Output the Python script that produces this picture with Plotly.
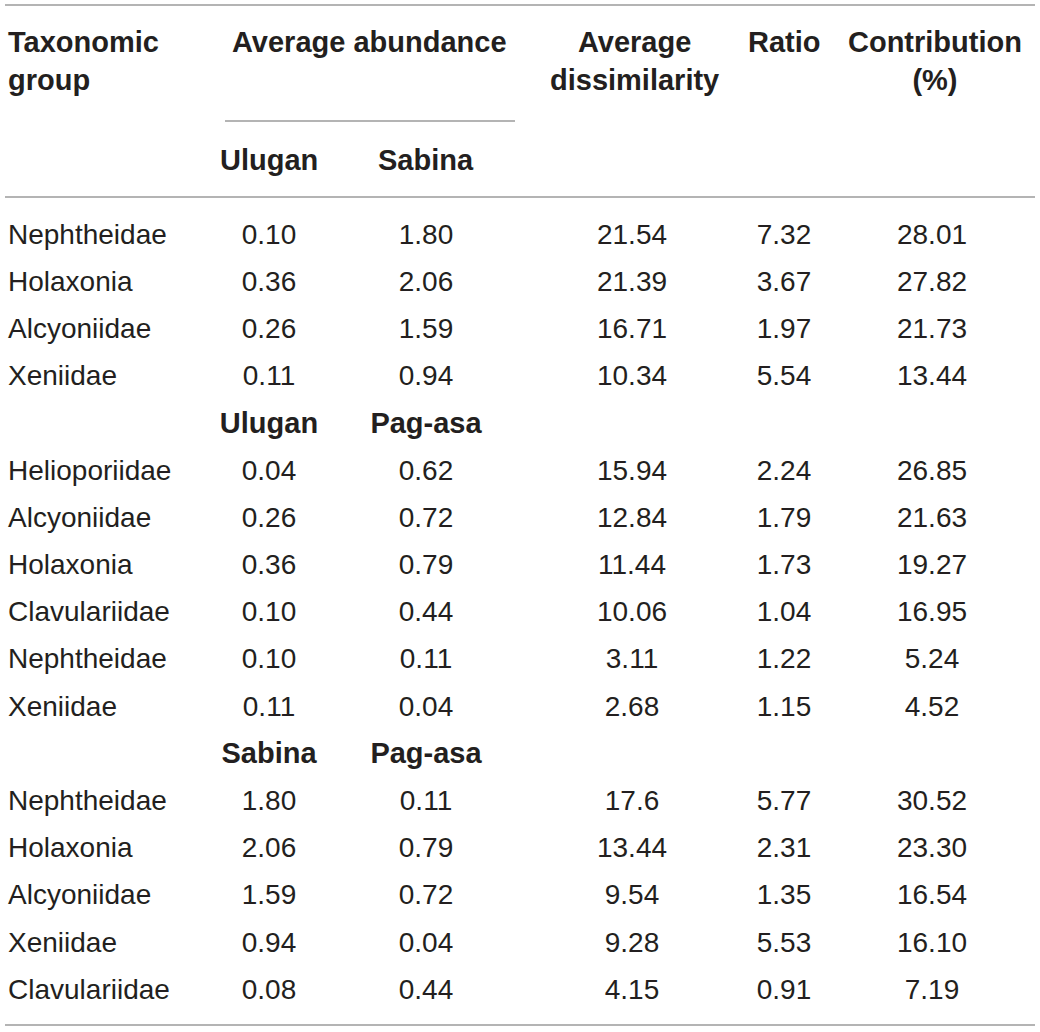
import plotly.graph_objects as go

# ---- data ----
col_headers = ["Taxonomic<br>group", "Average abundance", "Average<br>dissimilarity", "Ratio", "Contribution<br>(%)"]
pair_sites = [("Ulugan", "Sabina"), ("Ulugan", "Pag-asa"), ("Sabina", "Pag-asa")]

taxa_1 = ["Nephtheidae", "Holaxonia", "Alcyoniidae", "Xeniidae"]
abund_a_1 = ["0.10", "0.36", "0.26", "0.11"]
abund_b_1 = ["1.80", "2.06", "1.59", "0.94"]
dissim_1 = ["21.54", "21.39", "16.71", "10.34"]
ratio_1 = ["7.32", "3.67", "1.97", "5.54"]
contrib_1 = ["28.01", "27.82", "21.73", "13.44"]

taxa_2 = ["Helioporiidae", "Alcyoniidae", "Holaxonia", "Clavulariidae", "Nephtheidae", "Xeniidae"]
abund_a_2 = ["0.04", "0.26", "0.36", "0.10", "0.10", "0.11"]
abund_b_2 = ["0.62", "0.72", "0.79", "0.44", "0.11", "0.04"]
dissim_2 = ["15.94", "12.84", "11.44", "10.06", "3.11", "2.68"]
ratio_2 = ["2.24", "1.79", "1.73", "1.04", "1.22", "1.15"]
contrib_2 = ["26.85", "21.63", "19.27", "16.95", "5.24", "4.52"]

taxa_3 = ["Nephtheidae", "Holaxonia", "Alcyoniidae", "Xeniidae", "Clavulariidae"]
abund_a_3 = ["1.80", "2.06", "1.59", "0.94", "0.08"]
abund_b_3 = ["0.11", "0.79", "0.72", "0.04", "0.44"]
dissim_3 = ["17.6", "13.44", "9.54", "9.28", "4.15"]
ratio_3 = ["5.77", "2.31", "1.35", "5.53", "0.91"]
contrib_3 = ["30.52", "23.30", "16.54", "16.10", "7.19"]

blocks = [
    (taxa_1, abund_a_1, abund_b_1, dissim_1, ratio_1, contrib_1),
    (taxa_2, abund_a_2, abund_b_2, dissim_2, ratio_2, contrib_2),
    (taxa_3, abund_a_3, abund_b_3, dissim_3, ratio_3, contrib_3),
]

# ---- layout constants (pixel-like axis units) ----
W, H = 1040, 1032
TXT = "#231f20"
LINE = "#9b9b9b"
FONT = "Liberation Sans, Arial, sans-serif"
FS = 28
FSB = 29
ROW0, STEP = 234, 47.2
TRACE_DY = 2.5  # scatter text sits slightly higher than annotations
X_LEFT = 6
X_A, X_B, X_D, X_R, X_C = 269, 426, 632, 784, 932

rows = []
for bi, blk in enumerate(blocks):
    if bi > 0:
        rows.append(("sub", pair_sites[bi]))
    for i in range(len(blk[0])):
        rows.append(("data", tuple(col[i] for col in blk)))

left_x, left_y, left_t = [], [], []
cx, cy, ct = [], [], []
sx, sy, st = [], [], []
for r, (kind, p) in enumerate(rows):
    y = ROW0 + r * STEP
    if kind == "sub":
        sx += [X_A, X_B]; sy += [y + TRACE_DY] * 2; st += [f"<b>{p[0]}</b>", f"<b>{p[1]}</b>"]
    else:
        left_x.append(X_LEFT); left_y.append(y); left_t.append(p[0])
        for xx, v in zip([X_A, X_B, X_D, X_R, X_C], p[1:]):
            cx.append(xx); cy.append(y + TRACE_DY); ct.append(v)

fig = go.Figure()
fig.add_trace(go.Scatter(x=cx, y=cy, text=ct, mode="text", textposition="middle center",
                         textfont=dict(family=FONT, size=FS, color=TXT), hoverinfo="skip"))
fig.add_trace(go.Scatter(x=sx, y=sy, text=st, mode="text", textposition="middle center",
                         textfont=dict(family=FONT, size=FSB, color=TXT), hoverinfo="skip"))

ann = []
def add(x, y, t, anchor="center", size=FS):
    ann.append(dict(x=x, y=y, xref="x", yref="y", text=t, showarrow=False, xanchor=anchor,
                    yanchor="middle", align=anchor if anchor != "center" else "center",
                    font=dict(family=FONT, size=size, color=TXT)))

for x, y, t in zip(left_x, left_y, left_t):
    add(x, y, t, "left")

add(X_LEFT, 61, f"<b>{col_headers[0]}</b>", "left", FSB)
add(369, 42, f"<b>{col_headers[1]}</b>", size=FSB)
add(634, 61, f"<b>{col_headers[2]}</b>", size=FSB)
add(784, 42, f"<b>{col_headers[3]}</b>", size=FSB)
add(935, 61, f"<b>{col_headers[4]}</b>", size=FSB)
add(X_A, 160, f"<b>{pair_sites[0][0]}</b>", size=FSB)
add(X_B, 160, f"<b>{pair_sites[0][1]}</b>", size=FSB)

shapes = []
for (x0, x1, y) in [(5, 1035, 5), (225, 515, 121), (5, 1035, 197), (5, 1035, 1025)]:
    shapes.append(dict(type="line", xref="x", yref="y", x0=x0, x1=x1, y0=y, y1=y,
                       line=dict(color=LINE, width=1.6)))

fig.update_layout(
    width=W, height=H, margin=dict(l=0, r=0, t=0, b=0),
    paper_bgcolor="white", plot_bgcolor="white", showlegend=False,
    xaxis=dict(range=[0, W], visible=False, fixedrange=True),
    yaxis=dict(range=[H, 0], visible=False, fixedrange=True),
    annotations=ann, shapes=shapes,
)
fig.write_html("out.html", config={"displayModeBar": False},
               post_script="document.body.style.margin='0';document.body.style.overflow='hidden';")
